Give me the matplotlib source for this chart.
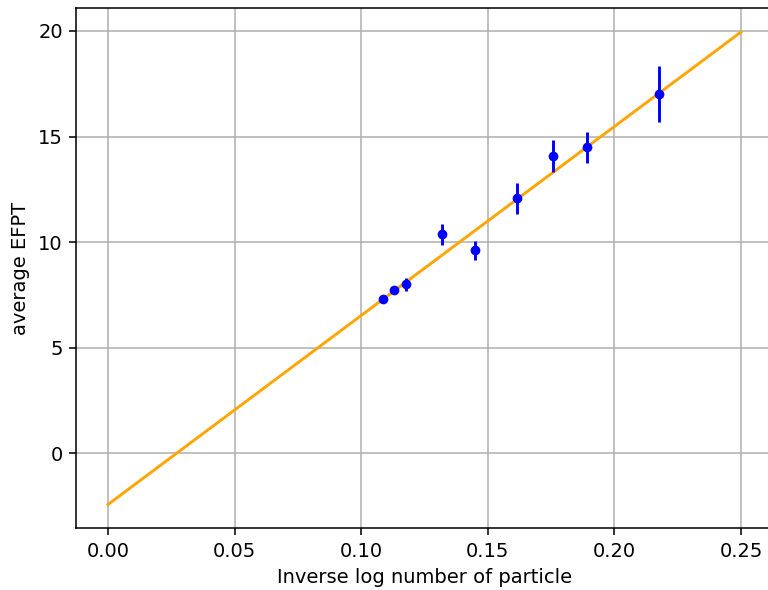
import numpy as np
import matplotlib.pyplot as plt

inv_log_n = [0.1085, 0.1128, 0.1175, 0.1318, 0.1451, 0.1614, 0.1759, 0.1891, 0.2176]
mean_efpt = [7.33, 7.74, 8.0, 10.37, 9.62, 12.07, 14.09, 14.49, 17.0]
err_efpt = [0.15, 0.15, 0.3, 0.5, 0.45, 0.73, 0.77, 0.75, 1.33]

fit_x = [0.0, 0.25]
fit_y = [-2.42, 19.95]

# reference looks rendered at a larger scale, so use dpi 140
fig = plt.figure(figsize=(768 / 140, 590 / 140), dpi=140)
ax = fig.add_axes([0.0995, 0.105, 0.9065, 0.8807])

ax.plot(fit_x, fit_y, color='orange', lw=1.5)
ax.errorbar(inv_log_n, mean_efpt, yerr=err_efpt, fmt='o', color='blue', ms=4, elinewidth=1.5)

ax.set_xlabel('Inverse log number of particle')
ax.set_ylabel('average EFPT')
ax.grid(True)

plt.savefig('out.png', dpi=140)
